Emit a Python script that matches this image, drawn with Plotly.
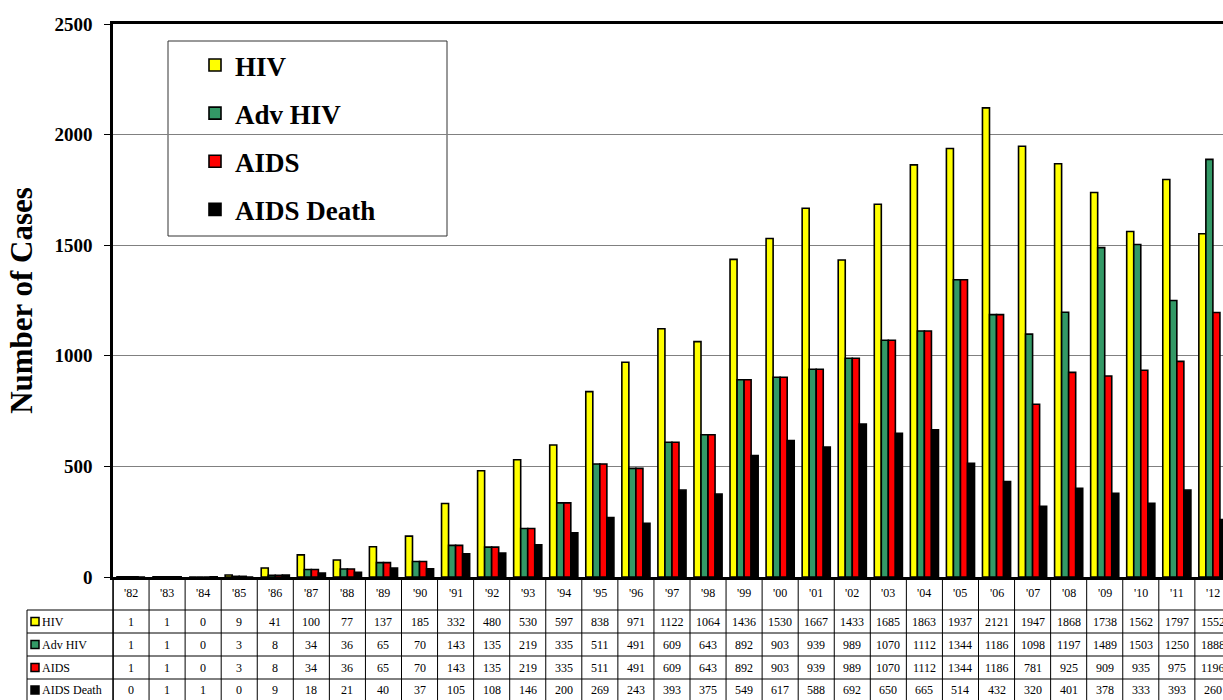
import plotly.graph_objects as go

years = ["'82", "'83", "'84", "'85", "'86", "'87", "'88", "'89", "'90", "'91", "'92",
         "'93", "'94", "'95", "'96", "'97", "'98", "'99", "'00", "'01", "'02", "'03",
         "'04", "'05", "'06", "'07", "'08", "'09", "'10", "'11", "'12"]
hiv = [1, 1, 0, 9, 41, 100, 77, 137, 185, 332, 480, 530, 597, 838, 971, 1122, 1064,
       1436, 1530, 1667, 1433, 1685, 1863, 1937, 2121, 1947, 1868, 1738, 1562, 1797, 1552]
adv_hiv = [1, 1, 0, 3, 8, 34, 36, 65, 70, 143, 135, 219, 335, 511, 491, 609, 643, 892,
           903, 939, 989, 1070, 1112, 1344, 1186, 1098, 1197, 1489, 1503, 1250, 1888]
aids = [1, 1, 0, 3, 8, 34, 36, 65, 70, 143, 135, 219, 335, 511, 491, 609, 643, 892,
        903, 939, 989, 1070, 1112, 1344, 1186, 781, 925, 909, 935, 975, 1196]
aids_death = [0, 1, 1, 0, 9, 18, 21, 40, 37, 105, 108, 146, 200, 269, 243, 393, 375,
              549, 617, 588, 692, 650, 665, 514, 432, 320, 401, 378, 333, 393, 260]

series_names = ["HIV", "Adv HIV", "AIDS", "AIDS Death"]
series_values = [hiv, adv_hiv, aids, aids_death]
series_colors = ["#FFFF00", "#339966", "#FF0000", "#000000"]

# The page body margin is removed below, so positions are window pixels.
W, H = 1223, 700
PL, PT, PB, PR = 113, 24, 577, 1223   # plot area in window pixels
L, T = PL, PT
B = H - PB
R = W - PR
PW, PH = PR - PL, PB - PT
FONT = "Liberation Serif, Times New Roman, serif"


def px_x(px):
    return (px - PL) / PW


def px_y(py):
    return (PB - py) / PH


fig = go.Figure()
for i, (name, vals, col) in enumerate(zip(series_names, series_values, series_colors)):
    fig.add_trace(go.Bar(
        x=list(range(len(years))), y=vals, name=name, legendgroup=str(i),
        marker=dict(color=col, line=dict(color="black", width=1.6)),
    ))

shapes = []
annotations = []
n = len(years)

# legend box
shapes.append(dict(type="rect", xref="paper", yref="paper",
                   x0=px_x(168), x1=px_x(447), y0=px_y(236), y1=px_y(41),
                   line=dict(color="#333333", width=1), fillcolor="white", layer="below"))

# table
header_y = px_y(593)
row_lines = [610, 633, 656, 679]
row_centers = [621.5, 644.5, 667.5, 690]
bottom = px_y(702)
for k in range(n + 1):
    shapes.append(dict(type="line", xref="x", yref="paper", x0=k - 0.5, x1=k - 0.5,
                       y0=0, y1=bottom, line=dict(color="black", width=1)))
shapes.append(dict(type="line", xref="paper", yref="paper", x0=0, x1=0,
                   y0=0, y1=bottom, line=dict(color="black", width=1.5)))
shapes.append(dict(type="line", xref="paper", yref="paper", x0=px_x(27), x1=px_x(27),
                   y0=px_y(610), y1=bottom, line=dict(color="black", width=1)))
for ry in row_lines:
    shapes.append(dict(type="line", xref="paper", yref="paper", x0=px_x(27), x1=1.02,
                       y0=px_y(ry), y1=px_y(ry), line=dict(color="black", width=1)))

for k, yl in enumerate(years):
    annotations.append(dict(x=k, y=header_y, xref="x", yref="paper", text=yl,
                            xanchor="center", yanchor="middle",
                            showarrow=False, font=dict(family=FONT, size=12, color="black")))

for r, (name, vals, col) in enumerate(zip(series_names, series_values, series_colors)):
    cy = px_y(row_centers[r])
    shapes.append(dict(type="rect", xref="paper", yref="paper",
                       x0=px_x(31), x1=px_x(39), y0=cy - 4 / PH, y1=cy + 4 / PH,
                       fillcolor=col, line=dict(color="black", width=1.5)))
    annotations.append(dict(x=px_x(40), y=cy, xref="paper", yref="paper", text=name,
                            xanchor="left", yanchor="middle", showarrow=False,
                            font=dict(family=FONT, size=12, color="black")))
    for k, v in enumerate(vals):
        annotations.append(dict(x=k, y=cy, xref="x", yref="paper", text=str(v),
                                xanchor="center", yanchor="middle", showarrow=False,
                                font=dict(family=FONT, size=12, color="black")))

fig.update_layout(
    width=W, height=H,
    margin=dict(l=L, r=R, t=T, b=B, pad=0, autoexpand=False),
    plot_bgcolor="white", paper_bgcolor="white",
    barmode="group", bargap=0.22, bargroupgap=0,
    font=dict(family=FONT, color="black"),
    showlegend=True,
    legend=dict(x=px_x(195), y=px_y(41), xanchor="left", yanchor="top",
                font=dict(family=FONT, size=27, color="black", weight="bold"),
                bgcolor="rgba(0,0,0,0)", borderwidth=0,
                traceorder="grouped", tracegroupgap=10),
    xaxis=dict(range=[-0.5, n - 0.72], showticklabels=False, ticks="",
               showgrid=False, showline=True, mirror=True, linecolor="black",
               linewidth=2.5, zeroline=False, fixedrange=True, automargin=False),
    yaxis=dict(range=[0, 2500], dtick=500, tickformat="d", showgrid=True,
               gridcolor="#808080", gridwidth=1, ticks="outside", ticklen=6,
               tickcolor="black", showline=True, linecolor="black", linewidth=2.5,
               zeroline=False, automargin=False,
               tickfont=dict(family=FONT, size=19, color="black", weight="bold"),
               ticklabelstandoff=8,
               title=dict(text="Number of Cases", standoff=13,
                          font=dict(family=FONT, size=31, color="black", weight="bold"))),
    shapes=shapes, annotations=annotations,
)

fig.write_html(
    "out.html",
    config={"displayModeBar": False},
    post_script="document.body.style.margin='0';document.body.style.overflow='hidden';",
)
